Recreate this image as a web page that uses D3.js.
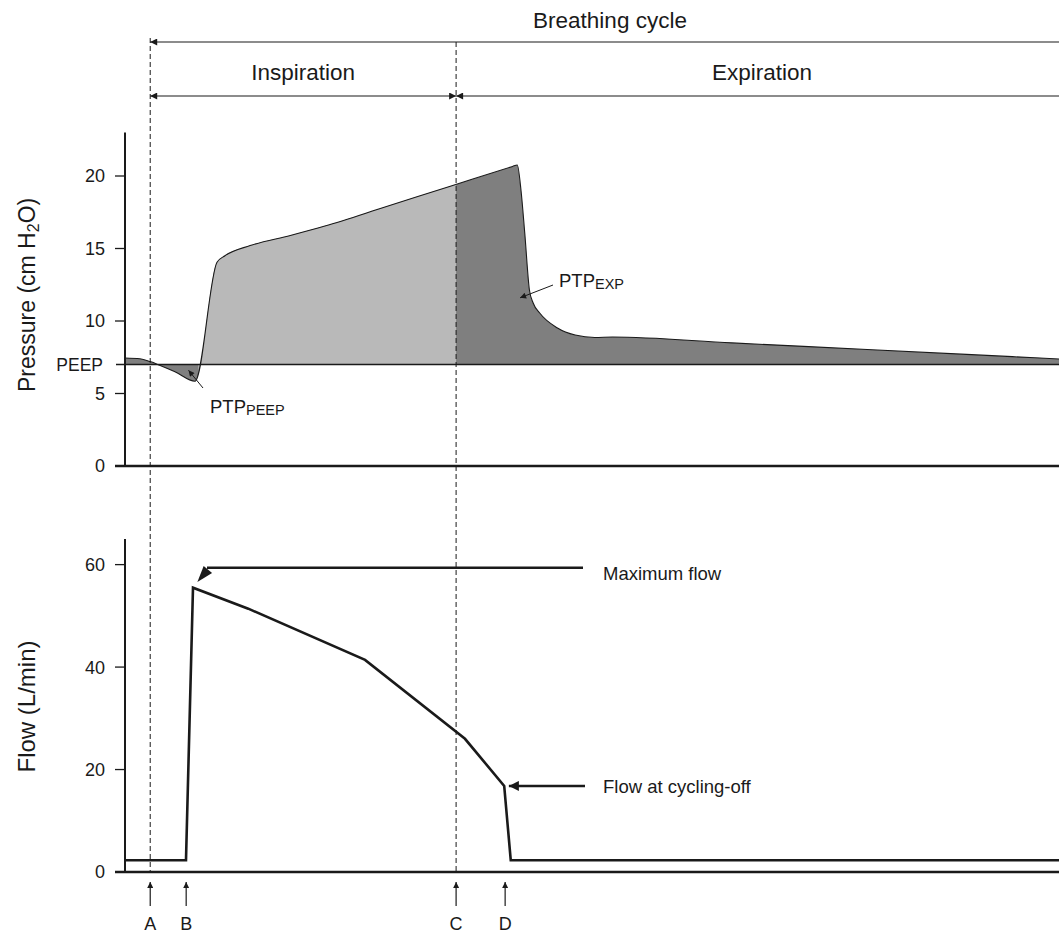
<!DOCTYPE html>
<html><head><meta charset="utf-8">
<script src="https://cdn.jsdelivr.net/npm/d3@7"></script>
<style>body{margin:0;background:#fff}svg{display:block;font-family:"Liberation Sans",Arial,Helvetica,sans-serif}</style>
</head><body>
<script>
// time in % of displayed window
const pressureTime = [0,1.6,2.7,3.7,5.35,7.5,9.85,10.7,13.4,17.7,21.4,28,35,41.5,42.0,42.4,42.8,43.3,43.7,44.4,46.3,48.2,50.3,52.2,65,80,95,100];
const pressureValues = [7.45,7.4,7.2,6.95,6.5,5.85,14.05,14.5,15.2,15.9,16.55,17.9,19.33,20.66,20.76,19.0,16.07,12.14,11.24,10.55,9.52,9.03,8.86,8.9,8.49,8.02,7.54,7.38];
const flowTime = [0,6.53,7.28,13.2,25.7,36.4,40.6,41.3,100];
const flowValues = [2.3,2.3,55.5,51.4,41.4,26.0,16.8,2.3,2.3];
const PEEP = 7;
const markerNames = ["A","B","C","D"];
const markerTimes = [2.7,6.55,35.45,40.7];
const pressureTicks = [0,5,10,15,20];
const flowTicks = [0,20,40,60];
const pressureCrossT = 7.85; // where rising pressure crosses PEEP

const W=1059,H=933;
const svg=d3.select("body").append("svg").attr("width",W).attr("height",H);
const x=d3.scaleLinear().domain([0,100]).range([125,1059]);
const yP=d3.scaleLinear().domain([0,23]).range([466,132.5]);
const yF=d3.scaleLinear().domain([0,65]).range([872,539]);
const ink="#1a1a1a";

// defs
const defs=svg.append("defs");
defs.append("marker").attr("id","ah").attr("viewBox","0 0 10 10").attr("refX",10).attr("refY",5)
 .attr("markerWidth",10).attr("markerHeight",7).attr("markerUnits","userSpaceOnUse").attr("orient","auto-start-reverse")
 .append("path").attr("d","M0,0L10,5L0,10Z").attr("fill",ink);
defs.append("marker").attr("id","ahs").attr("viewBox","0 0 10 10").attr("refX",10).attr("refY",5)
 .attr("markerWidth",9).attr("markerHeight",6).attr("markerUnits","userSpaceOnUse").attr("orient","auto")
 .append("path").attr("d","M0,0L10,5L0,10Z").attr("fill",ink);
defs.append("marker").attr("id","ahb").attr("viewBox","0 0 10 10").attr("refX",10).attr("refY",5)
 .attr("markerWidth",19).attr("markerHeight",10).attr("markerUnits","userSpaceOnUse").attr("orient","auto")
 .append("path").attr("d","M0,0L10,5L0,10Z").attr("fill",ink);
defs.append("clipPath").attr("id","clipLight").append("rect")
 .attr("x",x(pressureCrossT)).attr("y",0).attr("width",x(markerTimes[2])-x(pressureCrossT)).attr("height",H);

// pressure data
const pData=pressureTime.map((t,i)=>({t,v:pressureValues[i]}));
const area=d3.area().x(d=>x(d.t)).y0(yP(PEEP)).y1(d=>yP(d.v)).curve(d3.curveMonotoneX);
svg.append("path").datum(pData).attr("d",area).attr("fill","#7f7f7f");
svg.append("path").datum(pData).attr("d",area).attr("fill","#b9b9b9").attr("clip-path","url(#clipLight)");
svg.append("path").datum(pData).attr("d",d3.line().x(d=>x(d.t)).y(d=>yP(d.v)).curve(d3.curveMonotoneX))
 .attr("fill","none").attr("stroke",ink).attr("stroke-width",1.1);
// PEEP line
svg.append("line").attr("x1",116).attr("x2",W).attr("y1",yP(PEEP)).attr("y2",yP(PEEP)).attr("stroke",ink).attr("stroke-width",1.3);

// axes
function yAxis(scale,ticks,top,bottom){
  const g=svg.append("g");
  g.append("line").attr("x1",125).attr("x2",125).attr("y1",top).attr("y2",bottom).attr("stroke",ink).attr("stroke-width",2);
  g.append("line").attr("x1",115).attr("x2",W).attr("y1",bottom).attr("y2",bottom).attr("stroke",ink).attr("stroke-width",2.4);
  ticks.forEach(v=>{
    if(v>0) g.append("line").attr("x1",115).attr("x2",125).attr("y1",scale(v)).attr("y2",scale(v)).attr("stroke",ink).attr("stroke-width",1.3);
    g.append("text").attr("x",105).attr("y",scale(v)).attr("dy","0.36em").attr("text-anchor","end")
     .attr("font-size",18).attr("fill",ink).text(v);
  });
}
yAxis(yP,pressureTicks,yP(23),yP(0));
yAxis(yF,flowTicks,yF(65),yF(0));
svg.append("text").attr("x",103).attr("y",yP(PEEP)).attr("dy","0.36em").attr("text-anchor","end").attr("font-size",17.5).attr("fill",ink).text("PEEP");

// axis titles
const pt=svg.append("text").attr("transform",`translate(35,${yP(11.8)}) rotate(-90)`).attr("text-anchor","middle").attr("font-size",23).attr("fill",ink);
pt.append("tspan").text("Pressure (cm H");
pt.append("tspan").attr("font-size",16).attr("dy",4).text("2");
pt.append("tspan").attr("dy",-4).text("O)");
svg.append("text").attr("transform",`translate(35,${yF(32.3)}) rotate(-90)`).attr("text-anchor","middle").attr("font-size",24).attr("fill",ink).text("Flow (L/min)");

// flow line
const fData=flowTime.map((t,i)=>({t,v:flowValues[i]}));
svg.append("path").datum(fData).attr("d",d3.line().x(d=>x(d.t)).y(d=>yF(d.v)))
 .attr("fill","none").attr("stroke",ink).attr("stroke-width",2.6).attr("stroke-linejoin","miter");

// dashed verticals at A and C
[markerTimes[0],markerTimes[2]].forEach((t,i)=>{
  svg.append("line").attr("x1",x(t)).attr("x2",x(t)).attr("y1",i?42:38).attr("y2",yF(0)).attr("stroke",ink)
   .attr("stroke-width",1).attr("stroke-dasharray","5,3");
});

// top phase arrows
const xA=x(markerTimes[0]), xC=x(markerTimes[2]);
svg.append("line").attr("x1",W+6).attr("x2",xA).attr("y1",42).attr("y2",42).attr("stroke",ink).attr("stroke-width",1.2).attr("marker-end","url(#ah)");
svg.append("text").attr("x",610).attr("y",28).attr("text-anchor","middle").attr("font-size",22.5).attr("fill",ink).text("Breathing cycle");
svg.append("line").attr("x1",xA).attr("x2",xC).attr("y1",96).attr("y2",96).attr("stroke",ink).attr("stroke-width",1.2)
 .attr("marker-start","url(#ah)").attr("marker-end","url(#ah)");
svg.append("line").attr("x1",W+6).attr("x2",xC).attr("y1",96).attr("y2",96).attr("stroke",ink).attr("stroke-width",1.2).attr("marker-end","url(#ah)");
svg.append("text").attr("x",(xA+xC)/2).attr("y",80).attr("text-anchor","middle").attr("font-size",22.5).attr("fill",ink).text("Inspiration");
svg.append("text").attr("x",762).attr("y",80).attr("text-anchor","middle").attr("font-size",22.5).attr("fill",ink).text("Expiration");

// PTP annotations
svg.append("line").attr("x1",203).attr("y1",388).attr("x2",x(6.8)).attr("y2",yP(6.6)).attr("stroke",ink).attr("stroke-width",1).attr("marker-end","url(#ahs)");
const t1=svg.append("text").attr("x",210).attr("y",413).attr("font-size",18.5).attr("fill",ink);
t1.append("tspan").text("PTP");t1.append("tspan").attr("font-size",14.5).attr("dy",2).text("PEEP");
svg.append("line").attr("x1",553).attr("y1",285).attr("x2",x(42.3)).attr("y2",yP(11.6)).attr("stroke",ink).attr("stroke-width",1).attr("marker-end","url(#ahs)");
const t2=svg.append("text").attr("x",559).attr("y",287).attr("font-size",18.5).attr("fill",ink);
t2.append("tspan").text("PTP");t2.append("tspan").attr("font-size",14.5).attr("dy",2).text("EXP");

// flow annotations
const yMax=yF(59.4);
svg.append("line").attr("x1",583).attr("x2",207).attr("y1",yMax).attr("y2",yMax).attr("stroke",ink).attr("stroke-width",2.4);
{
  const tip=[x(7.75),yF(56.6)], back=[tip[0]+10.5,tip[1]-12.5];
  const len=Math.hypot(back[0]-tip[0],back[1]-tip[1]);
  const px=-(back[1]-tip[1])/len*5.5, py=(back[0]-tip[0])/len*5.5;
  svg.append("path").attr("d",`M${tip}L${back[0]+px},${back[1]+py}L${back[0]-px},${back[1]-py}Z`).attr("fill",ink);
}
svg.append("text").attr("x",603).attr("y",yMax+6).attr("dy","0.36em").attr("text-anchor","start").attr("font-size",18.5).attr("fill",ink).text("Maximum flow");
svg.append("line").attr("x1",585).attr("x2",x(41.1)).attr("y1",yF(16.8)).attr("y2",yF(16.8)).attr("stroke",ink).attr("stroke-width",2.4).attr("marker-end","url(#ahb)");
svg.append("text").attr("x",603).attr("y",yF(16.8)).attr("dy","0.36em").attr("text-anchor","start").attr("font-size",18.5).attr("fill",ink).text("Flow at cycling-off");

// bottom markers
markerNames.forEach((n,i)=>{
  const xx=x(markerTimes[i]);
  svg.append("line").attr("x1",xx).attr("x2",xx).attr("y1",906).attr("y2",882).attr("stroke",ink).attr("stroke-width",1.2).attr("marker-end","url(#ahs)");
  svg.append("text").attr("x",xx).attr("y",924).attr("dy","0.36em").attr("text-anchor","middle").attr("font-size",18).attr("fill",ink).text(n);
});
</script>
</body></html>
